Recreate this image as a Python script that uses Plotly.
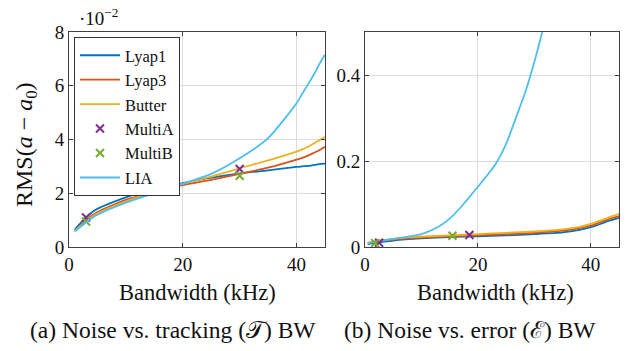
import plotly.graph_objects as go

# ---- Panel (a): noise vs tracking BW (values x 1e-2) ----
bw_a = [1, 3, 5, 10, 15, 20, 25, 30, 35, 40, 41, 42, 43, 44, 45]
lyap1_a = [0.65, 1.1, 1.42, 1.85, 2.15, 2.38, 2.58, 2.74, 2.85, 2.98, 3.0, 3.02, 3.05, 3.08, 3.1]
lyap3_a = [0.6, 1.0, 1.3, 1.75, 2.05, 2.3, 2.5, 2.72, 2.95, 3.25, 3.32, 3.4, 3.5, 3.6, 3.73]
butter_a = [0.6, 0.95, 1.25, 1.7, 2.05, 2.35, 2.62, 2.93, 3.22, 3.55, 3.63, 3.73, 3.85, 3.97, 4.1]
lia_a = [0.57, 0.92, 1.2, 1.65, 2.0, 2.35, 2.72, 3.3, 4.05, 5.35, 5.7, 6.05, 6.4, 6.8, 7.15]
multiA_x_a = [3, 30]
multiA_y_a = [1.1, 2.9]
multiB_x_a = [3, 30]
multiB_y_a = [0.95, 2.65]

# ---- Panel (b): noise vs error BW ----
bw_b = [0.5, 1, 5, 10, 15, 20, 25, 30, 35, 38, 40, 41, 43, 45]
lyap1_b = [0.007, 0.008, 0.015, 0.02, 0.023, 0.025, 0.027, 0.03, 0.034, 0.04, 0.046, 0.05, 0.06, 0.068]
lyap3_b = [0.008, 0.01, 0.017, 0.022, 0.025, 0.027, 0.03, 0.033, 0.038, 0.044, 0.05, 0.054, 0.064, 0.072]
butter_b = [0.009, 0.012, 0.019, 0.024, 0.027, 0.03, 0.033, 0.036, 0.041, 0.047, 0.054, 0.058, 0.068, 0.077]
lia_bx = [0.5, 1, 5, 10, 13, 15, 17, 20, 23, 25, 27, 28.5, 30, 31.5]
lia_by = [0.008, 0.01, 0.019, 0.03, 0.047, 0.066, 0.093, 0.14, 0.19, 0.24, 0.31, 0.364, 0.43, 0.505]
multiA_x_b = [2.5, 18.5]
multiA_y_b = [0.01, 0.028]
multiB_x_b = [1.8, 15.5]
multiB_y_b = [0.009, 0.026]

colors = {"Lyap1": "#0072BD", "Lyap3": "#D95319", "Butter": "#EDB120",
          "MultiA": "#7E2F8E", "MultiB": "#77AC30", "LIA": "#4DBEEE"}

FONT = "Liberation Serif, Times New Roman, serif"
fig = go.Figure()

def line(x, y, name, ax, show):
    fig.add_trace(go.Scatter(x=x, y=y, mode="lines", name=name, showlegend=show,
                             line=dict(color=colors[name], width=1.8, shape="spline", smoothing=0.6),
                             xaxis=ax[0], yaxis=ax[1]))

def marks(x, y, name, ax, show):
    fig.add_trace(go.Scatter(x=x, y=y, mode="markers", name=name, showlegend=show,
                             marker=dict(symbol="x-thin", size=8, color=colors[name],
                                         line=dict(color=colors[name], width=2)),
                             xaxis=ax[0], yaxis=ax[1]))

A = ("x", "y")
B = ("x2", "y2")
line(bw_a, lyap1_a, "Lyap1", A, True)
line(bw_a, lyap3_a, "Lyap3", A, True)
line(bw_a, butter_a, "Butter", A, True)
marks(multiA_x_a, multiA_y_a, "MultiA", A, True)
marks(multiB_x_a, multiB_y_a, "MultiB", A, True)
line(bw_a, lia_a, "LIA", A, True)

line(bw_b, lyap1_b, "Lyap1", B, False)
line(bw_b, lyap3_b, "Lyap3", B, False)
line(bw_b, butter_b, "Butter", B, False)
line(lia_bx, lia_by, "LIA", B, False)
marks(multiA_x_b, multiA_y_b, "MultiA", B, False)
marks(multiB_x_b, multiB_y_b, "MultiB", B, False)

W, H = 629, 351
def px(x): return x / W
def py(y): return (H - y) / H

axis_common = dict(showline=True, linecolor="#404040", linewidth=1, mirror="allticks",
                   ticks="inside", ticklen=4, tickcolor="#404040",
                   showgrid=True, gridcolor="#dcdcdc", gridwidth=1, zeroline=False,
                   tickfont=dict(family=FONT, size=19, color="#111"))

fig.update_layout(
    width=W, height=H, margin=dict(l=0, r=0, t=0, b=0, autoexpand=False),
    paper_bgcolor="white", plot_bgcolor="white",
    font=dict(family=FONT, color="#111"),
    xaxis=dict(domain=[px(69), px(325)], range=[0, 45], dtick=20, anchor="y", **axis_common),
    yaxis=dict(domain=[py(247), py(32)], range=[0, 8], dtick=2, anchor="x", **axis_common),
    xaxis2=dict(domain=[px(365), px(619)], range=[0, 45], dtick=20, anchor="y2", **axis_common),
    yaxis2=dict(domain=[py(247), py(32)], range=[0, 0.5], dtick=0.2, anchor="x2", **axis_common),
    legend=dict(x=px(74), y=py(37), xanchor="left", yanchor="top",
                bgcolor="white", bordercolor="#333", borderwidth=1,
                font=dict(family=FONT, size=16.5, color="#111"),
                tracegroupgap=0, itemwidth=40),
    showlegend=True,
)

ann = [
    dict(text="·10<sup>−2</sup>", x=px(77), y=py(17), xanchor="left", yanchor="middle",
         font=dict(size=19)),
    dict(text="RMS(<i>a</i> − <i>a</i><sub>0</sub>)", x=px(26), y=py(145), textangle=-90,
         xanchor="center", yanchor="middle", font=dict(size=24)),
    dict(text="Bandwidth (kHz)", x=px(197), y=py(292), xanchor="center", yanchor="middle",
         font=dict(size=22.5)),
    dict(text="Bandwidth (kHz)", x=px(495), y=py(292), xanchor="center", yanchor="middle",
         font=dict(size=22.5)),
    dict(text="(a) Noise vs. tracking (𝒯) BW", x=px(173), y=py(330), xanchor="center",
         yanchor="middle", font=dict(size=23.5)),
    dict(text="(b) Noise vs. error (ℰ) BW", x=px(470), y=py(330), xanchor="center",
         yanchor="middle", font=dict(size=23.5)),
]
for a in ann:
    a.update(xref="paper", yref="paper", showarrow=False)
    a["font"] = dict(family=FONT, color="#111", **a["font"])
fig.update_layout(annotations=ann)

fig.write_html("out.html", config={"displayModeBar": False},
               post_script="document.body.style.margin='0';document.body.style.overflow='hidden';")
